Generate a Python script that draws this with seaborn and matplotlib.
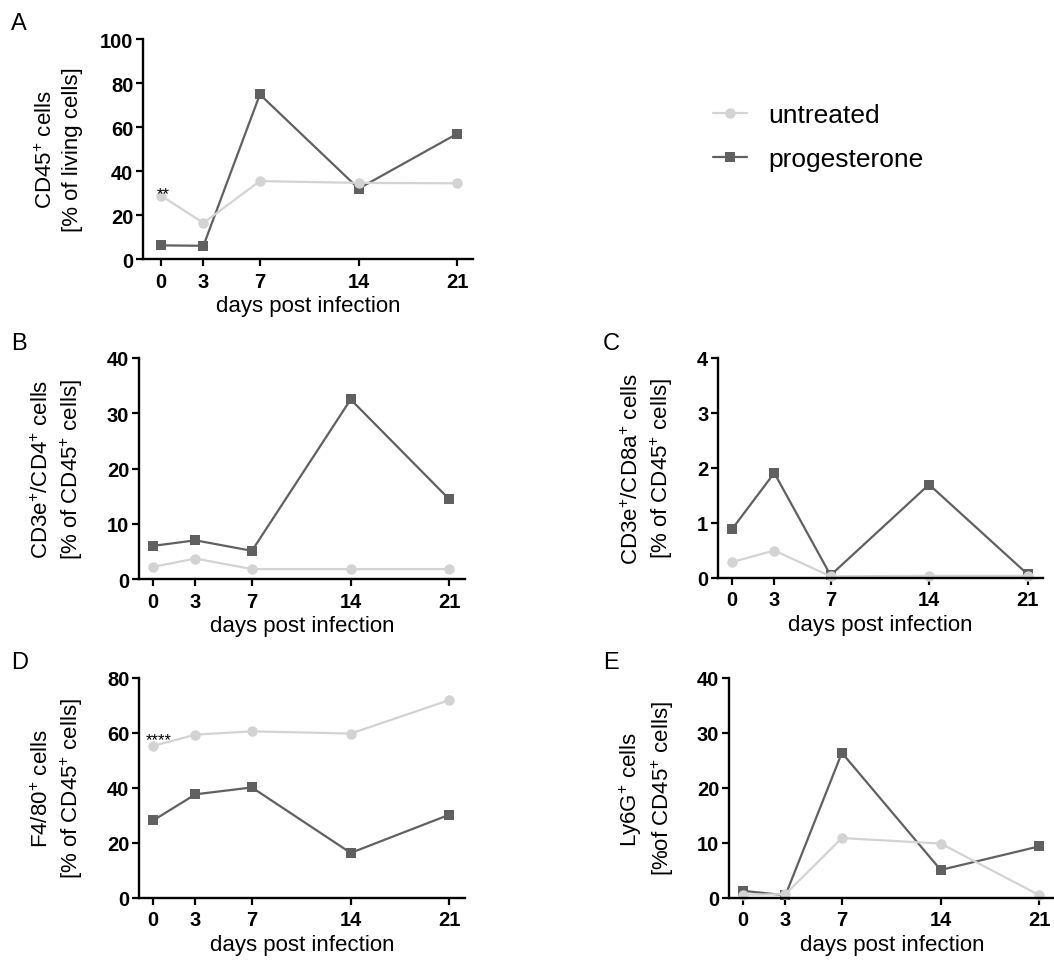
import pandas as pd
import seaborn as sns
from matplotlib import pyplot as plt
from matplotlib.lines import Line2D

days = [0, 3, 7, 14, 21]
groups = ['untreated', 'progesterone']

cd45_untreated = [28.8, 16.4, 35.4, 34.6, 34.4]
cd45_progesterone = [6.2, 6.0, 74.8, 32.0, 57.0]
cd4_untreated = [2.2, 3.7, 1.8, 1.8, 1.8]
cd4_progesterone = [6.0, 7.0, 5.1, 32.5, 14.4]
cd8_untreated = [0.29, 0.50, 0.03, 0.04, 0.04]
cd8_progesterone = [0.89, 1.91, 0.05, 1.70, 0.07]
f480_untreated = [55.3, 59.4, 60.6, 59.8, 72.0]
f480_progesterone = [28.2, 37.7, 40.2, 16.4, 30.3]
ly6g_untreated = [0.6, 0.7, 10.9, 9.9, 0.5]
ly6g_progesterone = [1.3, 0.5, 26.4, 5.1, 9.4]

COLORS = {'untreated': '#d3d3d3', 'progesterone': '#606060'}
MARKERS = {'untreated': 'o', 'progesterone': 's'}

sns.set_style("ticks")
plt.rcParams['font.family'] = ['Liberation Sans', 'DejaVu Sans']
plt.rcParams['mathtext.fontset'] = 'custom'
plt.rcParams['mathtext.rm'] = 'Liberation Sans'
plt.rcParams['mathtext.it'] = 'Liberation Sans:italic'
plt.rcParams['mathtext.bf'] = 'Liberation Sans:bold'
for key in ('text.color', 'axes.labelcolor', 'xtick.color', 'ytick.color',
            'axes.edgecolor'):
    plt.rcParams[key] = 'black'

W, H = 1054, 962
fig = plt.figure(figsize=(W / 100, H / 100), dpi=100)


def px_rect(left, top, right, bottom):
    return [left / W, 1 - bottom / H, (right - left) / W, (bottom - top) / H]


def make_df(untreated, progesterone):
    rows = []
    for g, vals in (('progesterone', progesterone), ('untreated', untreated)):
        for d, v in zip(days, vals):
            rows.append((d, v, g))
    return pd.DataFrame(rows, columns=('day', 'value', 'group'))


def panel(rect, letter, letter_xy, untreated, progesterone, ylabel, ymax, ystep,
          label_x, xleft=-1.0):
    ax = fig.add_axes(px_rect(*rect))
    df = make_df(untreated, progesterone)
    sns.lineplot(data=df, x='day', y='value', hue='group', style='group',
                 hue_order=['progesterone', 'untreated'], palette=COLORS,
                 markers=MARKERS, dashes=False, markersize=7.5,
                 markeredgewidth=0, linewidth=1.6, legend=False, ax=ax)
    for ln in ax.lines:
        ln.set_clip_on(False)
    ax.set_xlim(xleft, 22.1)
    ax.set_ylim(0, ymax)
    yt = [ystep * i for i in range(int(round(ymax / ystep)) + 1)]
    ax.set_xticks(days)
    ax.set_yticks(yt)
    ax.set_xticklabels([str(d) for d in days], fontweight='bold')
    ax.set_yticklabels([f"{v:g}" for v in yt], fontweight='bold')
    ax.tick_params(axis='both', direction='out', length=5, width=1.6,
                   labelsize=14.5, color='black', labelcolor='black')
    ax.tick_params(axis='y', pad=2)
    ax.tick_params(axis='x', pad=4)
    sns.despine(ax=ax)
    for s in ('left', 'bottom'):
        ax.spines[s].set_linewidth(1.7)
        ax.spines[s].set_color('black')
    ax.set_xlabel('days post infection', fontsize=16, labelpad=3, color='black')
    ax.set_ylabel(ylabel, fontsize=16, linespacing=1.3, color='black')
    ax.yaxis.set_label_coords(label_x, 0.5)
    fig.text(letter_xy[0] / W, 1 - letter_xy[1] / H, letter, fontsize=17,
             ha='left', va='top', color='black')
    return ax


axA = panel((143, 40, 473, 260), 'A', (11, 13), cd45_untreated, cd45_progesterone,
            'CD45$^{+}$ cells\n[% of living cells]', 100, 20, -0.182, xleft=-1.28)
axA.text(0.15, 27.5, '**', fontsize=12, ha='center', va='baseline', color='black')

panel((139, 359, 465, 580), 'B', (11, 333), cd4_untreated, cd4_progesterone,
      'CD3e$^{+}$/CD4$^{+}$ cells\n[% of CD45$^{+}$ cells]', 40, 10, -0.166)
panel((718, 359, 1043, 579), 'C', (603, 333), cd8_untreated, cd8_progesterone,
      'CD3e$^{+}$/CD8a$^{+}$ cells\n[% of CD45$^{+}$ cells]', 4, 1, -0.132)
axD = panel((139, 679, 465, 899), 'D', (11, 652), f480_untreated, f480_progesterone,
            'F4/80$^{+}$ cells\n[% of CD45$^{+}$ cells]', 80, 20, -0.166)
axD.text(0.37, 56, '****', fontsize=12, ha='center', va='baseline', color='black')
panel((729, 679, 1055, 899), 'E', (603, 652), ly6g_untreated, ly6g_progesterone,
      'Ly6G$^{+}$ cells\n[%of CD45$^{+}$ cells]', 40, 10, -0.163)

handles = [Line2D([], [], color=COLORS[g], marker=MARKERS[g], markersize=7.5,
                  markeredgewidth=0, linewidth=1.6) for g in groups]
fig.legend(handles, groups, loc='upper left', bbox_to_anchor=(713 / W, 1 - 104 / H),
           frameon=False, fontsize=19, handlelength=1.3, handletextpad=0.8,
           labelspacing=0.75, borderpad=0, borderaxespad=0, labelcolor='black')

fig.savefig('out.png', dpi=100)
